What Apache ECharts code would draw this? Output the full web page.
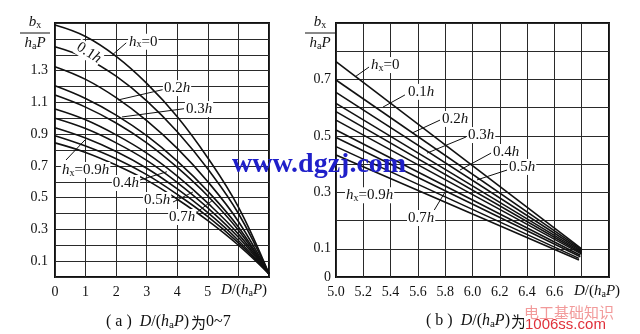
<!DOCTYPE html>
<html><head><meta charset="utf-8">
<script src="https://cdn.jsdelivr.net/npm/echarts/dist/echarts.min.js"></script>
<style>html,body{margin:0;padding:0;background:#fff}#c{width:640px;height:334px}</style>
</head><body><div id="c"></div>
<script>
// ---- data: chart (a), D/(haP) 0~7 ----
const leftX = [0, 1, 2, 3, 4, 5, 6, 7];
const leftH00 = [1.587, 1.515, 1.39, 1.22, 1.01, 0.75, 0.44, 0.02];
const leftH01 = [1.45, 1.38, 1.265, 1.11, 0.915, 0.68, 0.40, 0.02];
const leftH02 = [1.325, 1.245, 1.13, 0.985, 0.81, 0.60, 0.35, 0.02];
const leftH03 = [1.205, 1.125, 1.02, 0.89, 0.73, 0.54, 0.315, 0.02];
const leftH04 = [1.146, 1.07, 0.97, 0.845, 0.69, 0.51, 0.295, 0.02];
const leftH05 = [1.058, 0.99, 0.895, 0.78, 0.635, 0.465, 0.27, 0.02];
const leftH06 = [1.00, 0.935, 0.845, 0.735, 0.595, 0.435, 0.25, 0.02];
const leftH07 = [0.94, 0.875, 0.79, 0.685, 0.555, 0.405, 0.23, 0.02];
const leftH08 = [0.89, 0.825, 0.745, 0.645, 0.52, 0.38, 0.215, 0.02];
const leftH09 = [0.845, 0.785, 0.705, 0.61, 0.49, 0.355, 0.20, 0.02];
const leftCurves = [leftH00, leftH01, leftH02, leftH03, leftH04, leftH05, leftH06, leftH07, leftH08, leftH09];

// ---- data: chart (b), D/(haP) 5~7 (straight lines: start at 5.0, end near 6.8) ----
const rightStartX = 5.0;
const rightStart = [0.763, 0.698, 0.654, 0.615, 0.586, 0.556, 0.521, 0.494, 0.462, 0.432];
const rightEndX = [6.80, 6.80, 6.80, 6.80, 6.80, 6.80, 6.79, 6.79, 6.78, 6.78];
const rightEnd = [0.100, 0.097, 0.093, 0.089, 0.085, 0.081, 0.077, 0.072, 0.066, 0.060];

// ---- tick label sets ----
const leftYLabels = ['0.1', '0.3', '0.5', '0.7', '0.9', '1.1', '1.3'];
const leftXLabels = ['0', '1', '2', '3', '4', '5'];
const rightYLabels = ['0', '0.1', '0.3', '0.5', '0.7'];
const rightXLabels = ['5.0', '5.2', '5.4', '5.6', '5.8', '6.0', '6.2', '6.4', '6.6'];

// ---- annotations (data coords): label text, label anchor, leader line ----
const leftNotes = [
  {t: 'hx=0', x: 2.39, y: 1.482, l: [2.33, 1.475, 1.88, 1.40]},
  {t: '0.1h', x: 0.72, y: 1.46, rot: -33},
  {t: '0.2h', x: 3.53, y: 1.19, l: [3.52, 1.18, 2.06, 1.115]},
  {t: '0.3h', x: 4.25, y: 1.058, l: [4.22, 1.06, 2.19, 1.008]},
  {t: 'hx=0.9h', x: 0.2, y: 0.674, l: [0.36, 0.737, 0.98, 0.863]},
  {t: '0.4h', x: 1.86, y: 0.592, l: [2.78, 0.611, 3.66, 0.663]},
  {t: '0.5h', x: 2.88, y: 0.485, l: [3.86, 0.472, 4.51, 0.535]},
  {t: '0.7h', x: 3.70, y: 0.378, l: [4.65, 0.409, 5.17, 0.485]}
];
const rightNotes = [
  {t: 'hx=0', x: 5.249, y: 0.751, l: [5.242, 0.744, 5.139, 0.709]},
  {t: '0.1h', x: 5.52, y: 0.656, l: [5.505, 0.645, 5.344, 0.602]},
  {t: '0.2h', x: 5.77, y: 0.56, l: [5.762, 0.556, 5.557, 0.51]},
  {t: '0.3h', x: 5.96, y: 0.503, l: [5.952, 0.496, 5.667, 0.439]},
  {t: '0.4h', x: 6.143, y: 0.443, l: [6.136, 0.439, 5.908, 0.379]},
  {t: '0.5h', x: 6.26, y: 0.39, l: [6.253, 0.379, 6.033, 0.344]},
  {t: 'hx=0.9h', x: 5.066, y: 0.29},
  {t: '0.7h', x: 5.52, y: 0.209, l: [5.711, 0.23, 5.799, 0.301]}
];

const SERIF = 'Liberation Serif';
const INK = '#111';

const chart = echarts.init(document.getElementById('c'), null, {renderer: 'canvas'});

const series = [];
leftCurves.forEach(arr => {
  series.push({
    type: 'line', xAxisIndex: 0, yAxisIndex: 0,
    data: leftX.map((x, i) => [x, arr[i]]),
    smooth: 0.4, showSymbol: false, silent: true,
    lineStyle: {color: INK, width: 1.6}
  });
});
rightStart.forEach((v, i) => {
  series.push({
    type: 'line', xAxisIndex: 1, yAxisIndex: 1,
    data: [[rightStartX, v], [rightEndX[i], rightEnd[i]]],
    showSymbol: false, silent: true,
    lineStyle: {color: INK, width: 1.6}
  });
});

const gridLine = {show: true, lineStyle: {color: '#2a2a2a', width: 1}};
const lbl = {color: INK, fontFamily: SERIF, fontSize: 14};

chart.setOption({
  animation: false,
  backgroundColor: '#fff',
  grid: [
    {left: 55, top: 23, width: 214, height: 254, show: true, borderColor: INK, borderWidth: 2, backgroundColor: 'transparent'},
    {left: 336, top: 23, width: 273, height: 254, show: true, borderColor: INK, borderWidth: 2, backgroundColor: 'transparent'}
  ],
  xAxis: [
    {type: 'value', gridIndex: 0, min: 0, max: 7, interval: 1,
     axisLine: {show: false}, axisTick: {show: false}, splitLine: gridLine,
     axisLabel: Object.assign({margin: 8, formatter: v => leftXLabels.includes(String(v)) ? String(v) : ''}, lbl)},
    {type: 'value', gridIndex: 1, min: 5.0, max: 7.0, interval: 0.2,
     axisLine: {show: false}, axisTick: {show: false}, splitLine: gridLine,
     axisLabel: Object.assign({margin: 8, showMaxLabel: true, formatter: v => {
       const s = (Math.round(v * 10) / 10).toFixed(1); return rightXLabels.includes(s) ? s : '';}}, lbl)}
  ],
  yAxis: [
    {type: 'value', gridIndex: 0, min: 0, max: 1.6, interval: 0.1,
     axisLine: {show: false}, axisTick: {show: false}, splitLine: gridLine,
     axisLabel: Object.assign({margin: 7, formatter: v => {
       const s = (Math.round(v * 10) / 10).toFixed(1); return leftYLabels.includes(s) ? s : '';}}, lbl)},
    {type: 'value', gridIndex: 1, min: 0, max: 0.9, interval: 0.1,
     axisLine: {show: false}, axisTick: {show: false}, splitLine: gridLine,
     axisLabel: Object.assign({margin: 5, formatter: v => {
       const k = Math.round(v * 10); const s = k === 0 ? '0' : (k / 10).toFixed(1);
       return rightYLabels.includes(s) ? s : '';}}, lbl)}
  ],
  series: series
});

// ---------- annotations ----------
const richBase = {
  i: {fontFamily: SERIF, fontSize: 15, fontStyle: 'italic', fill: INK, lineHeight: 16},
  n: {fontFamily: SERIF, fontSize: 15, fill: INK, lineHeight: 16},
  s: {fontFamily: SERIF, fontSize: 10, fill: INK, lineHeight: 8, verticalAlign: 'bottom'}
};
const richCap = {
  i: {fontFamily: SERIF, fontSize: 16, fontStyle: 'italic', fill: INK, lineHeight: 17},
  n: {fontFamily: SERIF, fontSize: 16, fill: INK, lineHeight: 17},
  s: {fontFamily: SERIF, fontSize: 11, fill: INK, lineHeight: 8, verticalAlign: 'bottom'}
};
function toRich(t) {
  if (t.startsWith('hx')) return '{i|h}{s|x}{n|' + t.slice(2).replace(/h$/, '') + '}' + (t.endsWith('h') ? '{i|h}' : '');
  return '{n|' + t.slice(0, -1) + '}{i|h}';
}
const G = [];
function addNotes(notes, gi) {
  notes.forEach(n => {
    if (n.l) {
      const a = chart.convertToPixel({gridIndex: gi}, [n.l[0], n.l[1]]);
      const b = chart.convertToPixel({gridIndex: gi}, [n.l[2], n.l[3]]);
      G.push({type: 'line', z: 50, silent: true, shape: {x1: a[0], y1: a[1], x2: b[0], y2: b[1]},
        style: {stroke: INK, lineWidth: 1}});
    }
    const p = chart.convertToPixel({gridIndex: gi}, [n.x, n.y]);
    G.push({type: 'text', z: 60, silent: true, x: p[0], y: p[1], rotation: (n.rot || 0) * Math.PI / 180,
      style: {text: toRich(n.t), rich: richBase, align: 'left', verticalAlign: 'middle',
        backgroundColor: '#fff', padding: [0, 1, 0, 1]}});
  });
}
addNotes(leftNotes, 0);
addNotes(rightNotes, 1);

// y-axis titles (fraction bx / haP)
function fraction(cx) {
  G.push({type: 'text', z: 60, silent: true, x: cx, y: 22,
    style: {text: '{i|b}{s|x}', rich: richBase, align: 'center', verticalAlign: 'middle'}});
  G.push({type: 'line', z: 60, silent: true, shape: {x1: cx - 15, y1: 33, x2: cx + 15, y2: 33}, style: {stroke: INK, lineWidth: 1}});
  G.push({type: 'text', z: 60, silent: true, x: cx, y: 43,
    style: {text: '{i|h}{s|a}{i|P}', rich: richBase, align: 'center', verticalAlign: 'middle'}});
}
fraction(35);
fraction(320);

// x-axis names D/(haP)
const xName = '{i|D}{n|/(}{i|h}{s|a}{i|P}{n|)}';
G.push({type: 'text', z: 60, silent: true, x: 244, y: 290,
  style: {text: xName, rich: richBase, align: 'center', verticalAlign: 'middle', backgroundColor: '#fff'}});
G.push({type: 'text', z: 60, silent: true, x: 574, y: 291,
  style: {text: xName, rich: richBase, align: 'left', verticalAlign: 'middle'}});

// captions (latin part with rich text, CJK char and range placed after it)
function caption(x0, y0, tag, range) {
  G.push({type: 'text', z: 60, silent: true, x: x0, y: y0,
    style: {text: '{n|( ' + tag + ' )  }' + xName, rich: richCap, align: 'left', verticalAlign: 'middle'}});
  G.push({type: 'text', z: 60, silent: true, x: x0 + 85, y: y0,
    style: {text: '为', fill: INK, font: '15px "Noto Sans CJK SC"', align: 'left', verticalAlign: 'middle'}});
  G.push({type: 'text', z: 60, silent: true, x: x0 + 100, y: y0,
    style: {text: range, fill: INK, font: '16px "Liberation Serif"', align: 'left', verticalAlign: 'middle'}});
}
caption(106, 322, 'a', '0~7');
caption(426, 321, 'b', '5~7');

// watermarks present in the reference picture
G.push({type: 'text', z: 90, silent: true, x: 232, y: 165,
  style: {text: 'www.dgzj.com', fill: '#1f1fc9', font: 'bold 28px "Liberation Serif"', align: 'left', verticalAlign: 'middle'}});
G.push({type: 'rect', z: 88, silent: true, shape: {x: 524, y: 303, width: 94, height: 31}, style: {fill: '#fff'}});
G.push({type: 'text', z: 90, silent: true, x: 524, y: 312,
  style: {text: '电工基础知识', fill: '#f29a9a', font: '15px "Noto Sans CJK SC"', align: 'left', verticalAlign: 'middle'}});
G.push({type: 'text', z: 90, silent: true, x: 525, y: 325,
  style: {text: '1006ss.com', fill: '#e0303a', font: '15px "Liberation Sans"', align: 'left', verticalAlign: 'middle'}});

chart.setOption({graphic: G});
</script></body></html>
